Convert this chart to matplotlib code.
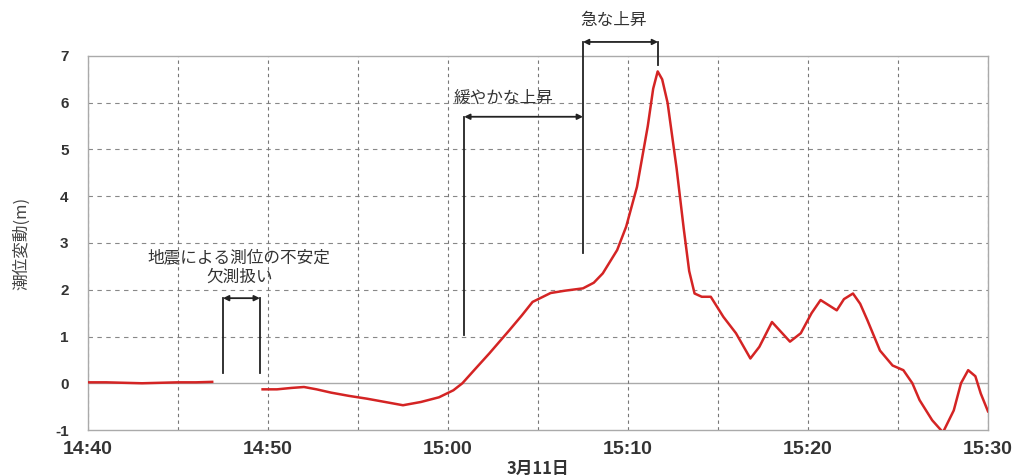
import matplotlib
matplotlib.use("Agg")
import matplotlib.pyplot as plt
import numpy as np

plt.rcParams['font.family'] = ['Liberation Sans', 'Noto Sans CJK JP', 'DejaVu Sans']

# minutes after 14:40
t1 = [0, 1, 2, 3, 4, 5, 6, 6.9]
v1 = [0.02, 0.02, 0.01, 0.0, 0.01, 0.02, 0.02, 0.03]

t2 = [9.7, 10.5, 11.3, 12.0, 12.7, 13.5, 14.5, 15.5, 16.5, 17.5, 18.5, 19.5, 20.3, 20.8,
      21.5, 22.3, 23.4, 24.1, 24.7, 25.7, 26.5, 27.5, 28.1, 28.6, 29.4, 29.9, 30.5, 31.1,
      31.4, 31.65, 31.9, 32.2, 32.7, 33.1, 33.4, 33.7, 34.1, 34.6, 35.3, 36.0, 36.8, 37.3,
      38.0, 38.5, 39.0, 39.6, 40.2, 40.7, 41.6, 42.0, 42.5, 42.9, 43.3, 44.0, 44.7, 45.3,
      45.8, 46.2, 46.9, 47.5, 48.1, 48.5, 48.9, 49.3, 49.6, 50.0]
v2 = [-0.13, -0.13, -0.10, -0.08, -0.13, -0.20, -0.27, -0.33, -0.40, -0.47, -0.40, -0.30, -0.15, 0.0,
      0.30, 0.64, 1.13, 1.45, 1.74, 1.93, 1.98, 2.03, 2.15, 2.35, 2.85, 3.35, 4.20, 5.50,
      6.30, 6.67, 6.50, 6.00, 4.60, 3.30, 2.40, 1.92, 1.85, 1.85, 1.42, 1.07, 0.53, 0.78,
      1.31, 1.10, 0.89, 1.07, 1.50, 1.78, 1.56, 1.80, 1.92, 1.70, 1.35, 0.70, 0.38, 0.28,
      0.0, -0.36, -0.79, -1.05, -0.58, 0.0, 0.28, 0.15, -0.22, -0.60]

xtick_pos = [0, 10, 20, 30, 40, 50]
xtick_labels = ['14:40', '14:50', '15:00', '15:10', '15:20', '15:30']
yticks = [-1, 0, 1, 2, 3, 4, 5, 6, 7]

# annotation brackets (x in minutes, y in m)
gap_x = [7.5, 9.55]
gap_y = [0.21, 1.82]
slow_x = [20.9, 27.5]
slow_y = [1.03, 2.78, 5.7]
fast_x = [27.5, 31.67]
fast_y = [6.8, 7.3]

JP = ['Noto Sans CJK JP', 'DejaVu Sans']

fig = plt.figure(figsize=(10.22, 4.76), dpi=100)
ax = fig.add_axes([0.0861, 0.0966, 0.8806, 0.7858])

ax.set_xlim(0, 50)
ax.set_ylim(-1, 7)

ax.axhline(0, color='#aaaaaa', lw=1.0, zorder=1)
ax.set_xticks(xtick_pos)
ax.set_xticks(np.arange(5, 50, 10), minor=True)
ax.set_yticks(yticks)
ax.set_xticklabels(xtick_labels, fontsize=14, color='#333333', fontweight='bold')
ax.set_yticklabels([str(v) for v in yticks], fontsize=11, color='#333333', fontweight='bold')
ax.tick_params(which='both', length=0)
ax.tick_params(axis='y', pad=14)
ax.tick_params(axis='x', pad=8)
ax.grid(which='both', axis='x', color='#777777', ls=(0, (3, 3)), lw=0.8)
for yv in range(1, 7):
    ax.axhline(yv, color='#888888', ls=(0, (4, 4)), lw=0.8, zorder=1)
for s in ax.spines.values():
    s.set_color('#aaaaaa')
    s.set_linewidth(1.0)

ax.plot(t1, v1, color='#d42424', lw=1.8, zorder=3)
ax.plot(t2, v2, color='#d42424', lw=1.8, zorder=3, clip_on=True)

ax.set_xlabel('3月11日', fontsize=12, color='#333333', fontweight='bold', labelpad=1, family=JP)
ax.set_ylabel('潮位変動(m)', fontsize=12, color='#444444', labelpad=18, family=JP)

kw = dict(color='#222222', lw=1.3, clip_on=False, zorder=4)
arr = dict(arrowstyle='<|-|>', color='#222222', lw=1.3, mutation_scale=8, shrinkA=0, shrinkB=0)

# gap bracket
ax.plot([gap_x[0], gap_x[0]], gap_y, **kw)
ax.plot([gap_x[1], gap_x[1]], gap_y, **kw)
ax.annotate('', xy=(gap_x[0], gap_y[1]), xytext=(gap_x[1], gap_y[1]), arrowprops=arr)
ax.text(8.4, 2.68, '地震による測位の不安定', ha='center', va='center', fontsize=12,
        color='#333333', family=JP)
ax.text(8.4, 2.27, '欠測扱い', ha='center', va='center', fontsize=12,
        color='#333333', family=JP)

# slow rise
ax.plot([slow_x[0], slow_x[0]], [slow_y[0], slow_y[2]], **kw)
ax.plot([slow_x[1], slow_x[1]], [slow_y[1], fast_y[1]], **kw)
ax.annotate('', xy=(slow_x[0], slow_y[2]), xytext=(slow_x[1], slow_y[2]), arrowprops=arr,
            annotation_clip=False)
ax.text(23.1, 6.1, '緩やかな上昇', ha='center', va='center', fontsize=12,
        color='#333333', family=JP)

# fast rise
ax.plot([fast_x[1], fast_x[1]], fast_y, **kw)
ax.annotate('', xy=(fast_x[0], fast_y[1]), xytext=(fast_x[1], fast_y[1]), arrowprops=arr,
            annotation_clip=False)
ax.text(29.2, 7.77, '急な上昇', ha='center', va='center', fontsize=12,
        color='#333333', family=JP, clip_on=False)

fig.savefig('out.png', dpi=100)
